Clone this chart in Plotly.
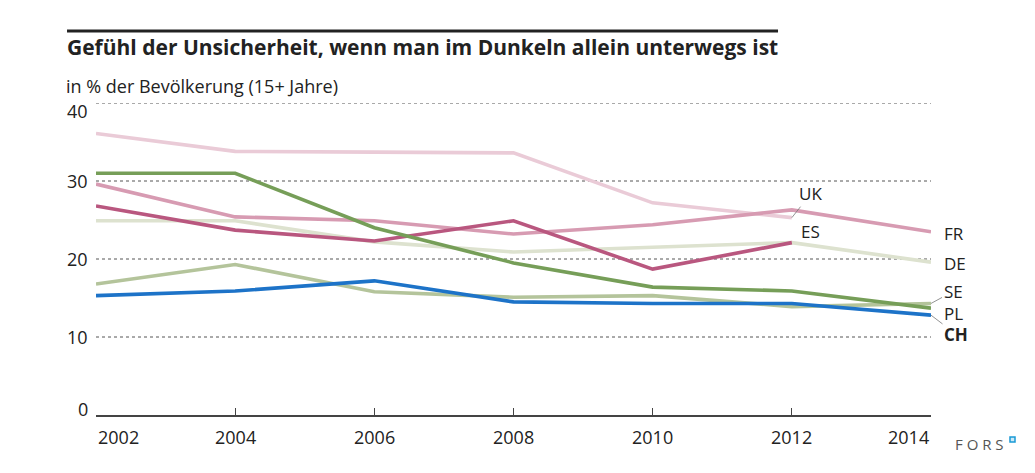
import plotly.graph_objects as go

years = [2002, 2004, 2006, 2008, 2010, 2012, 2014]
year_labels = ["2002", "2004", "2006", "2008", "2010", "2012", "2014"]
y_ticks = [0, 10, 20, 30, 40]
y_labels = ["0", "10", "20", "30", "40"]

uk = [36.1, 33.8, 33.7, 33.6, 27.2, 25.3, None]
fr = [29.6, 25.4, 24.9, 23.2, 24.4, 26.3, 23.5]
es = [26.8, 23.7, 22.3, 24.9, 18.7, 22.1, None]
de = [24.9, 24.9, 22.2, 20.9, 21.5, 22.1, 19.6]
pl = [31.0, 31.0, 24.0, 19.5, 16.4, 15.9, 13.7]
se = [16.8, 19.3, 15.8, 15.1, 15.3, 13.9, 14.3]
ch = [15.3, 15.9, 17.2, 14.5, 14.3, 14.3, 12.8]

FONT = "Open Sans"
TXT = "#222222"

series = [
    ("UK", uk, "#eacbd7"),
    ("DE", de, "#dde2cf"),
    ("FR", fr, "#d79bb2"),
    ("ES", es, "#b9577f"),
    ("SE", se, "#b4c49b"),
    ("PL", pl, "#769e58"),
    ("CH", ch, "#1d73c8"),
]

# page body has an 8px margin: figure is placed at (8, 8)
OFF = 8
W, H = 1035 - OFF, 473 - OFF
L, T, R, B = 96 - OFF, 103 - OFF, 104, 58

fig = go.Figure()

# dotted gridlines (drawn as shapes so the top one at 40 is visible)
shapes = []
for tv in y_ticks[1:]:
    shapes.append(dict(type="line", xref="paper", yref="y", x0=0, x1=1, y0=tv, y1=tv,
                       layer="below", line=dict(color="#555555", width=1, dash="dot")))

for name, vals, col in series:
    fig.add_trace(go.Scatter(x=years, y=vals, mode="lines", name=name,
                             line=dict(color=col, width=3.6), connectgaps=False,
                             hoverinfo="skip"))

def last(vals):
    for x, v in zip(reversed(years), reversed(vals)):
        if v is not None:
            return x, v

LS = 17
ann = []
lab_cfg = {
    "FR": dict(xshift=11, yshift=-2),
    "DE": dict(xshift=11, yshift=-1),
    "PL": dict(xshift=11, yshift=-5),
    "ES": dict(xshift=7, yshift=11),
}
for name, vals, col in series:
    x, v = last(vals)
    if name in lab_cfg:
        c = lab_cfg[name]
        ann.append(dict(x=x, y=v, xref="x", yref="y", text=name, showarrow=False,
                        xanchor="left", yanchor="middle", xshift=c["xshift"], yshift=c["yshift"],
                        font=dict(family=FONT, size=LS, color=TXT)))
leaders = {"UK": (19, -24, False), "SE": (22, -12, False), "CH": (25, 19, True)}
for name, vals, col in series:
    if name in leaders:
        x, v = last(vals)
        ax, ay, bold = leaders[name]
        ann.append(dict(x=x, y=v, xref="x", yref="y",
                        text=("<b>%s</b>" % name) if bold else name,
                        showarrow=True, arrowhead=0, arrowwidth=0.8, arrowcolor="#777777",
                        ax=ax, ay=ay, standoff=0, startstandoff=0,
                        font=dict(family=FONT, size=LS, color=TXT)))

# x tick labels
for i, (yv, lab) in enumerate(zip(years, year_labels)):
    anchor = "left" if i == 0 else ("right" if i == len(years) - 1 else "center")
    ann.append(dict(x=yv, y=-0.0705, xref="x", yref="paper", text=lab, showarrow=False,
                    xanchor=anchor, yanchor="middle",
                    font=dict(family=FONT, size=18, color=TXT)))
# y tick labels
for i, (tv, lab) in enumerate(zip(y_ticks, y_labels)):
    ys = 0
    if i == len(y_ticks) - 1:
        ys = -8
    elif i == 0:
        ys = 6
    ann.append(dict(x=0, y=tv, xref="paper", yref="y", text=lab, showarrow=False,
                    xanchor="right", yanchor="middle", xshift=-6, yshift=ys,
                    font=dict(family=FONT, size=18, color=TXT)))

# subtitle
ann.append(dict(x=-0.0347, y=1.0545, xref="paper", yref="paper",
                text="in % der Bevölkerung (15+ Jahre)", showarrow=False,
                xanchor="left", yanchor="middle", xshift=-3,
                font=dict(family=FONT, size=18, color=TXT)))
# FORS logo text
ann.append(dict(x=1.0287, y=-0.093, xref="paper", yref="paper", text="F O R S",
                showarrow=False, xanchor="left", yanchor="middle", xshift=-2,
                font=dict(family=FONT, size=15, color="#555555")))

shapes += [
    dict(type="line", xref="paper", yref="paper", x0=-0.0347, x1=0.8168,
         y0=1.2308, y1=1.2308, line=dict(color="#222222", width=3)),
    dict(type="rect", xref="paper", yref="paper", x0=1.0946, x1=1.1006,
         y0=-0.0705, y1=-0.0865, line=dict(color="#1a9ad6", width=1.5),
         fillcolor="#cfeaf7"),
]

fig.update_layout(
    width=W, height=H,
    margin=dict(l=L, r=R, t=T, b=B),
    paper_bgcolor="white", plot_bgcolor="white",
    showlegend=False,
    title=dict(text="<b>Gefühl der Unsicherheit, wenn man im Dunkeln allein unterwegs ist</b>",
               x=(67 - OFF) / W, xanchor="left", xref="container",
               y=1 - (48 - OFF) / H, yanchor="middle", yref="container",
               font=dict(family=FONT, size=21, color=TXT)),
    annotations=ann, shapes=shapes,
    font=dict(family=FONT, color=TXT),
)
fig.update_xaxes(range=[2002, 2014], showgrid=False, zeroline=False,
                 showline=True, linecolor="#444444", linewidth=1.5,
                 ticks="inside", ticklen=7, tickcolor="#444444", tickwidth=1,
                 tickvals=years, showticklabels=False)
fig.update_yaxes(range=[0, 40], tickvals=y_ticks, showgrid=False,
                 zeroline=False, showline=False,
                 ticks="", showticklabels=False)

fig.write_html("out.html")
